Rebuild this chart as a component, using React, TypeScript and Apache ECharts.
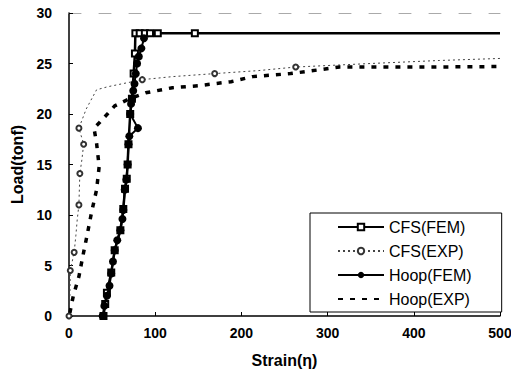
import React, { useEffect, useRef } from "react";
import * as echarts from "echarts";

const xTicks = [0, 100, 200, 300, 400, 500];
const yTicks = [0, 5, 10, 15, 20, 25, 30];

const cfsFemX = [40, 42, 44, 49, 53, 59.6, 63, 65, 67, 68, 69, 71, 73, 75, 76.5, 77, 82, 88, 94, 103, 146, 200, 300, 400, 500];
const cfsFemY = [0, 1.2, 2.3, 4.3, 6.5, 8.5, 10.6, 12.6, 13.6, 15, 17, 20, 21.5, 24, 26, 28, 28, 28, 28, 28, 28, 28, 28, 28, 28];
const cfsFemMarked = [1, 1, 1, 1, 1, 1, 1, 1, 1, 1, 1, 1, 1, 1, 1, 1, 1, 1, 1, 1, 1, 0, 0, 0, 0];

const cfsExpX = [0, 1, 1.5, 6, 8, 9.5, 11.5, 12, 12.6, 15, 17, 11.5, 20, 32, 45, 85, 120, 169, 220, 263, 350, 430, 500];
const cfsExpY = [0, 2, 4.5, 6.3, 8, 9.5, 11, 12.5, 14.1, 15.5, 17, 18.6, 20.5, 22.4, 22.7, 23.4, 23.7, 24.0, 24.3, 24.65, 25.0, 25.3, 25.5];
const cfsExpMarked = [1, 0, 1, 1, 0, 0, 1, 0, 1, 0, 1, 1, 0, 0, 0, 1, 0, 1, 0, 1, 0, 0, 0];

const hoopFemX = [39, 41, 44, 47, 49, 51, 53, 56, 59.6, 62, 63, 64.6, 66.5, 68, 69, 70, 80, 71, 72, 73, 74.5, 76, 77.5, 79, 81, 84, 87];
const hoopFemY = [0, 1, 2, 3, 4.2, 5.4, 6.5, 7.5, 8.5, 9.6, 10.5, 12.5, 13.5, 15, 17, 17.8, 18.6, 20, 21, 21.5, 22.3, 23, 24, 25, 25.7, 26.5, 27.5];

const hoopExpX = [1, 5, 11.5, 16, 21, 26, 32, 35, 32, 29, 36, 53, 70, 89, 120, 150, 188, 213, 257, 314, 368, 416, 500];
const hoopExpY = [0.3, 2, 3.9, 5.9, 8, 10.2, 12.5, 14.8, 17.1, 18.6, 19.2, 20.8, 21.5, 22.1, 22.6, 22.8, 23.2, 23.7, 24.0, 24.65, 24.65, 24.65, 24.7];

const seriesNames = ["CFS(FEM)", "CFS(EXP)", "Hoop(FEM)", "Hoop(EXP)"];

const FONT = "'Liberation Sans', Arial, sans-serif";

function pairs(xs: number[], ys: number[], marked?: number[]) {
  return xs.map((x, i) => {
    const item: any = { value: [x, ys[i]] };
    if (marked && !marked[i]) item.symbol = "none";
    return item;
  });
}

export default function App() {
  const ref = useRef<HTMLDivElement>(null);
  useEffect(() => {
    if (!ref.current) return;
    const chart = echarts.init(ref.current, null, { renderer: "svg" });
    chart.setOption({
      animation: false,
      backgroundColor: "#fff",
      grid: { left: 69, right: 11, top: 13, bottom: 56, outerBoundsMode: "none" },
      legend: {
        orient: "vertical",
        left: 310,
        top: 213,
        data: [
          { name: seriesNames[0] },
          { name: seriesNames[1] },
          { name: seriesNames[2] },
          { name: seriesNames[3], itemStyle: { opacity: 0 } },
        ],
        itemWidth: 46,
        itemHeight: 8,
        itemGap: 8,
        padding: [6, 30, 5, 27],
        borderColor: "#000",
        borderWidth: 1,
        backgroundColor: "#fff",
        textStyle: { fontFamily: FONT, fontSize: 16, color: "#000" },
      },
      xAxis: [
        {
          type: "value",
          min: 0,
          max: 500,
          interval: 100,
          name: "Strain(η)",
          nameLocation: "middle",
          nameGap: 36,
          nameTextStyle: { fontFamily: FONT, fontSize: 16, fontWeight: "bold", color: "#000" },
          axisLine: { show: true, lineStyle: { color: "#000", width: 1.5 } },
          axisTick: { show: true, inside: true, length: 4, lineStyle: { color: "#000" } },
          axisLabel: { fontFamily: FONT, fontSize: 14, fontWeight: "bold", color: "#000", margin: 10 },
          splitLine: { show: false },
        },
        {
          type: "value",
          position: "top",
          min: 0,
          max: 500,
          axisLine: { show: true, onZero: false, lineStyle: { color: "#aaa", width: 1, type: [12, 18] } },
          axisTick: { show: false },
          axisLabel: { show: false },
          splitLine: { show: false },
        },
      ],
      yAxis: {
        type: "value",
        min: 0,
        max: 30,
        interval: 5,
        name: "Load(tonf)",
        nameLocation: "middle",
        nameGap: 44,
        nameTextStyle: { fontFamily: FONT, fontSize: 16, fontWeight: "bold", color: "#000" },
        axisLine: { show: true, lineStyle: { color: "#000", width: 1.5 } },
        axisTick: { show: true, inside: true, length: 4, lineStyle: { color: "#000" } },
        axisLabel: { fontFamily: FONT, fontSize: 14, fontWeight: "bold", color: "#000", margin: 17 },
        splitLine: { show: false },
      },
      series: [
        {
          name: seriesNames[0],
          type: "line",
          data: pairs(cfsFemX, cfsFemY, cfsFemMarked),
          symbol: "emptyRect",
          symbolSize: 6,
          color: "#000",
          lineStyle: { color: "#000", width: 2.5 },
          itemStyle: { color: "#000", borderWidth: 1.2 },
          z: 3,
        },
        {
          name: seriesNames[1],
          type: "line",
          data: pairs(cfsExpX, cfsExpY, cfsExpMarked),
          symbol: "emptyCircle",
          symbolSize: 5,
          color: "#333",
          lineStyle: { color: "#444", width: 1, type: [2, 3] },
          itemStyle: { color: "#333", borderWidth: 1 },
          z: 2,
        },
        {
          name: seriesNames[2],
          type: "line",
          data: pairs(hoopFemX, hoopFemY),
          symbol: "circle",
          symbolSize: 8,
          color: "#000",
          lineStyle: { color: "#000", width: 2 },
          itemStyle: { color: "#000" },
          z: 4,
        },
        {
          name: seriesNames[3],
          type: "line",
          data: pairs(hoopExpX, hoopExpY),
          symbol: "none",
          color: "#000",
          lineStyle: { color: "#000", width: 3.5, type: [5, 7] },
          z: 2,
        },
      ],
    });
    return () => chart.dispose();
  }, []);
  return <div ref={ref} style={{ width: 511, height: 372, position: "absolute", left: 0, top: 0 }} />;
}
